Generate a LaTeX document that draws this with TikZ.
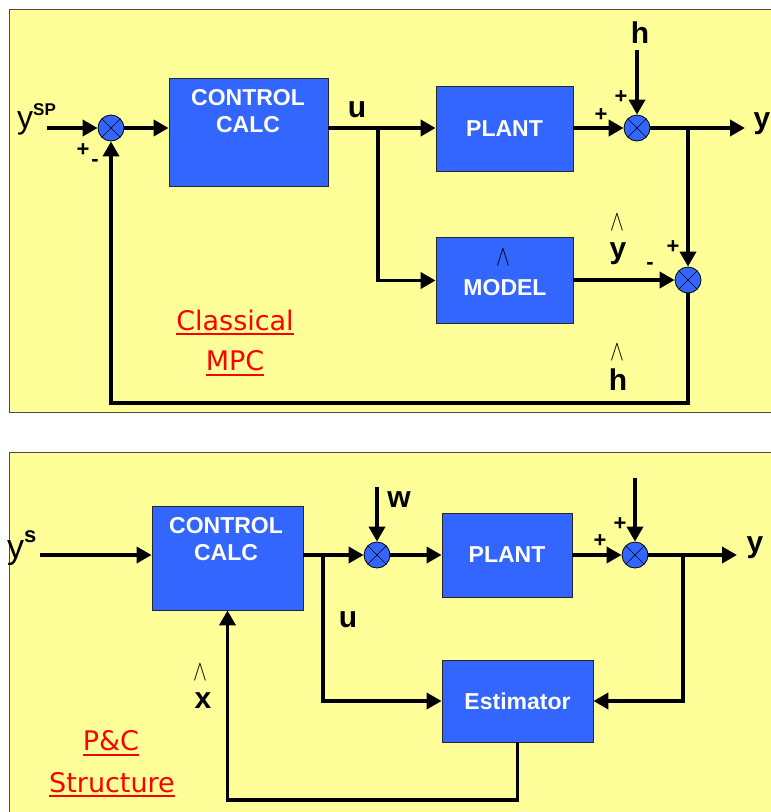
\documentclass[tikz,border=0pt]{standalone}
\usepackage{fontspec}
\setmainfont{Liberation Sans}
\newfontfamily\tagfont{DejaVu Sans}
\usetikzlibrary{arrows.meta}
\definecolor{paneyellow}{HTML}{FFFF99}
\definecolor{blockblue}{HTML}{3366FF}
\begin{document}
\begin{tikzpicture}[x=1pt, y=-1pt,
  every node/.style={inner sep=0pt},
  blk/.style={draw=black!85, line width=0.8pt, fill=blockblue, text=white, font=\fontsize{23}{27}\selectfont\bfseries},
  blktext/.style={text=white, align=center, font=\fontsize{23}{27}\selectfont\bfseries},
  sumnode/.style={circle, draw=black, line width=0.8pt, fill=blockblue, minimum size=26pt,
    path picture={\draw[line width=0.6pt] (path picture bounding box.north west) -- (path picture bounding box.south east)
      (path picture bounding box.south west) -- (path picture bounding box.north east);}},
  sig/.style={line width=3.8pt, -{Triangle[length=15pt, width=16pt]}},
  lbl/.style={anchor=base, font=\fontsize{30}{30}\selectfont\bfseries},
  sgn/.style={font=\fontsize{22}{22}\selectfont\bfseries},
  hat/.style={font=\fontsize{20}{20}\selectfont},
  tag/.style={anchor=base, text=red, font=\tagfont\fontsize{27}{27}\selectfont},
  tagline/.style={draw=red, line width=1.8pt}]
  \useasboundingbox (0,0) rectangle (771,812);
  \clip (0,0) rectangle (771,812);
  \filldraw[fill=paneyellow, draw=black!70, line width=1pt] (9,9) rectangle (800,412);
  \filldraw[fill=paneyellow, draw=black!70, line width=1pt] (9,452) rectangle (800,830);

  % classical MPC
  \node[blk, minimum width=159pt, minimum height=108pt] (ctl) at (248.5,132) {};
  \node[blktext, anchor=north] (ctltxt) at (248,89) {CONTROL\\CALC};
  \node[blk, minimum width=137pt, minimum height=85pt] (plant) at (504.5,129) {PLANT};
  \node[blk, minimum width=137pt, minimum height=86pt] (model) at (504.5,280.5) {};
  \node[blktext] (modeltxt) at (505,288) {MODEL};
  \node[hat] (modelhat) at (503,257) {\scalebox{1}[1.4]{$\wedge$}};
  \node[sumnode] (sum1) at (111,128) {};
  \node[sumnode] (sum2) at (637,128) {};
  \node[sumnode] (sum3) at (688,280) {};
  \coordinate (ysp) at (47,128);
  \coordinate (ubr) at (378,128);
  \coordinate (hin) at (637,50);
  \coordinate (yout) at (745,128);
  \coordinate (ybr) at (688,128);
  \coordinate (hfb) at (688,403);
  \draw[sig] (ysp) -- (sum1);
  \draw[sig] (sum1) -- (sum1 -| ctl.west);
  \draw[sig] (ctl.east |- ubr) -- (ubr) -- (plant.west |- ubr);
  \draw[sig] (ubr) |- (model.west);
  \draw[sig] (plant.east |- sum2) -- (sum2);
  \draw[sig] (hin) -- (sum2);
  \draw[sig] (sum2) -- (yout);
  \draw[sig] (ybr) -- (sum3);
  \draw[sig] (model.east |- sum3) -- (sum3);
  \draw[sig] (sum3) -- (hfb) -| (sum1);
  \node[anchor=base west] (yspl) at (17,128) {{\fontsize{32}{32}\selectfont y}\raisebox{13pt}{\fontsize{17}{17}\selectfont\bfseries SP}};
  \node[sgn] (s1p) at (83,150) {+};
  \node[sgn] (s1m) at (95,163) {-};
  \node[sgn] (s2p) at (601,115) {+};
  \node[sgn] (s2q) at (621,97) {+};
  \node[sgn] (s3p) at (673,247) {+};
  \node[sgn] (s3m) at (650,266) {-};
  \node[lbl] (ul) at (357,117) {u};
  \node[lbl] (hl) at (640,43) {h};
  \node[lbl] (yl) at (762,128) {y};
  \node[hat] (yhat) at (617,222) {\scalebox{1}[1.4]{$\wedge$}};
  \node[lbl] (yhl) at (618,258) {y};
  \node[hat] (hhat) at (617,352) {\scalebox{1}[1.4]{$\wedge$}};
  \node[lbl] (hhl) at (618,390) {h};
  \node[tag] (cls) at (235,330) {Classical};
  \node[tag] (mpc) at (235,370) {MPC};
  \draw[tagline] ([yshift=-4pt]cls.base west) -- ([yshift=-4pt]cls.base east);
  \draw[tagline] ([yshift=-5pt]mpc.base west) -- ([yshift=-5pt]mpc.base east);

  % P&C structure
  \node[blk, minimum width=151pt, minimum height=104pt] (ctl2) at (227.5,558) {};
  \node[blktext, anchor=north] (ctl2txt) at (226,517) {CONTROL\\CALC};
  \node[blk, minimum width=130pt, minimum height=84pt] (plant2) at (507,555) {PLANT};
  \node[blk, minimum width=151pt, minimum height=82pt] (est) at (517.5,701) {Estimator};
  \node[sumnode] (sum4) at (377,555) {};
  \node[sumnode] (sum5) at (635,555) {};
  \coordinate (ys) at (40,555);
  \coordinate (ubr2) at (323,555);
  \coordinate (win) at (377,487);
  \coordinate (din) at (635,478);
  \coordinate (yout2) at (737,555);
  \coordinate (ybr2) at (683,555);
  \coordinate (xfb) at (517.5,800);
  \draw[sig] (ys) -- (ys -| ctl2.west);
  \draw[sig] (ctl2.east |- sum4) -- (sum4);
  \draw[sig] (ubr2) |- (est.west);
  \draw[sig] (win) -- (sum4);
  \draw[sig] (sum4) -- (plant2.west |- sum4);
  \draw[sig] (plant2.east |- sum5) -- (sum5);
  \draw[sig] (din) -- (sum5);
  \draw[sig] (sum5) -- (yout2);
  \draw[sig] (ybr2) |- (est.east);
  \draw[sig] (est.south) -- (xfb) -| (ctl2.south);
  \node[anchor=base west] (ysl) at (7,558) {{\fontsize{34}{34}\selectfont y}\raisebox{16pt}{\fontsize{22}{22}\selectfont\bfseries s}};
  \node[sgn] (s5p) at (600,541) {+};
  \node[sgn] (s5q) at (620,524) {+};
  \node[lbl] (wl) at (399,507) {w};
  \node[lbl] (yl2) at (755,552) {y};
  \node[lbl] (ul2) at (348,627) {u};
  \node[hat] (xhat) at (200,672) {\scalebox{1}[1.4]{$\wedge$}};
  \node[lbl] (xl) at (203,708) {x};
  \node[tag] (pc) at (111,750) {P\&C};
  \node[tag] (strc) at (112,792) {Structure};
  \draw[tagline] ([yshift=-5pt]pc.base west) -- ([yshift=-5pt]pc.base east);
  \draw[tagline] ([yshift=-4pt]strc.base west) -- ([yshift=-4pt]strc.base east);
\end{tikzpicture}
\end{document}
